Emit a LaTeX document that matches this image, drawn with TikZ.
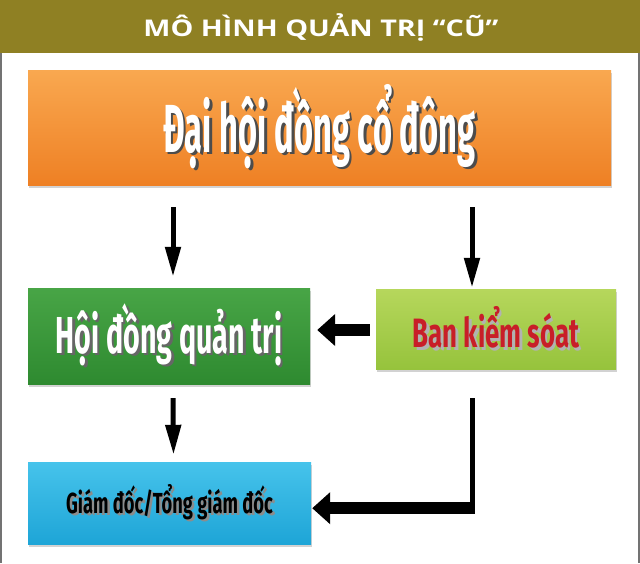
\documentclass[tikz,border=0pt]{standalone}
\usepackage{fontspec}
\setmainfont{Fira Sans}
\newfontfamily\titlefont{Open Sans}[FakeStretch=1.25]
\newfontfamily\dhfont{Fira Sans}[FakeStretch=0.48]
\newfontfamily\hdfont{Fira Sans}[FakeStretch=0.55]
\newfontfamily\smallfont{Fira Sans}[FakeStretch=0.63]
\usetikzlibrary{shapes, arrows.meta, shadows, calc}
\definecolor{titlebar}{RGB}{143,128,35}
\definecolor{orangetop}{RGB}{249,168,80}
\definecolor{orangebot}{RGB}{238,128,36}
\definecolor{greentop}{RGB}{72,165,70}
\definecolor{greenbot}{RGB}{46,138,48}
\definecolor{limetop}{RGB}{182,215,92}
\definecolor{limebot}{RGB}{150,195,60}
\definecolor{bluetop}{RGB}{70,195,235}
\definecolor{bluebot}{RGB}{30,165,215}
\definecolor{bksred}{RGB}{200,30,40}
\newcommand{\shtext}[3]{\makebox[0pt][l]{\kern2.5pt\raisebox{-2.5pt}{\textcolor{#2}{#3}}}\textcolor{#1}{#3}}
\tikzstyle{box} = [rectangle, text centered, draw=none, drop shadow={shadow xshift=1pt, shadow yshift=-3pt, opacity=0.35}]
\tikzstyle{dhbox} = [box, minimum width=583pt, minimum height=115pt, top color=orangetop, bottom color=orangebot, font=\dhfont\bfseries\fontsize{68}{68}\selectfont]
\tikzstyle{hdbox} = [box, minimum width=282pt, minimum height=96pt, top color=greentop, bottom color=greenbot, font=\hdfont\bfseries\fontsize{52}{52}\selectfont]
\tikzstyle{bkbox} = [box, minimum width=240pt, minimum height=80pt, top color=limetop, bottom color=limebot, font=\smallfont\bfseries\fontsize{41}{41}\selectfont]
\tikzstyle{gdbox} = [box, minimum width=283pt, minimum height=82pt, top color=bluetop, bottom color=bluebot, font=\smallfont\bfseries\fontsize{29}{29}\selectfont]
\tikzstyle{vedge} = [line width=5pt, -{Triangle[width=15pt, length=30pt]}]
\tikzstyle{hedge} = [line width=12pt, -{Triangle[width=31pt, length=18pt]}]

\begin{document}
\begin{tikzpicture}[x=1pt, y=-1pt]

\useasboundingbox (0,0) rectangle (640,563);
\fill[white] (0,0) rectangle (640,563);
\fill[titlebar] (0,0) rectangle (640,53);
\draw[black!55, line width=2pt] (1,53) -- (1,563);
\draw[black!55, line width=2pt] (639,53) -- (639,563);

\node (title) at (321,27) [text=white, font=\titlefont\bfseries\fontsize{23}{23}\selectfont] {MÔ HÌNH QUẢN TRỊ “CŨ”};

\node (dh) at (319.5,127.5) [dhbox] {\shtext{white}{black!70}{Đại hội đồng cổ đông}};
\node (hdqt) at (169,336) [hdbox] {\shtext{white}{black!60}{Hội đồng quản trị}};
\node (bks) at (496,329) [bkbox] {\shtext{bksred}{white!70!black}{Ban kiểm sóat}};
\node (gd) at (169.5,503) [gdbox] {\shtext{black}{black!45}{Giám đốc/Tổng giám đốc}};

\coordinate (corner) at ($(bks.south)+(-24,139)$);

\draw [vedge] ($(dh.south -| hdqt.north)+(4,22)$) -- ($(hdqt.north)+(4,-11)$);
\draw [vedge] ($(dh.south -| bks.north)+(-24,22)$) -- ($(bks.north)+(-24,-1)$);
\draw [hedge] ($(bks.west)+(-6,1)$) -- ($(bks.west -| hdqt.east)+(7,1)$);
\draw [vedge] ($(hdqt.south)+(4,14)$) -- ($(gd.north)+(4,-7)$);
\draw [line width=5pt] ($(bks.south)+(-24,29)$) -- ($(corner)+(0,6)$);
\draw [hedge] ($(corner)+(2.5,0)$) -- ($(corner -| gd.east)+(1,0)$);

\end{tikzpicture}
\end{document}
